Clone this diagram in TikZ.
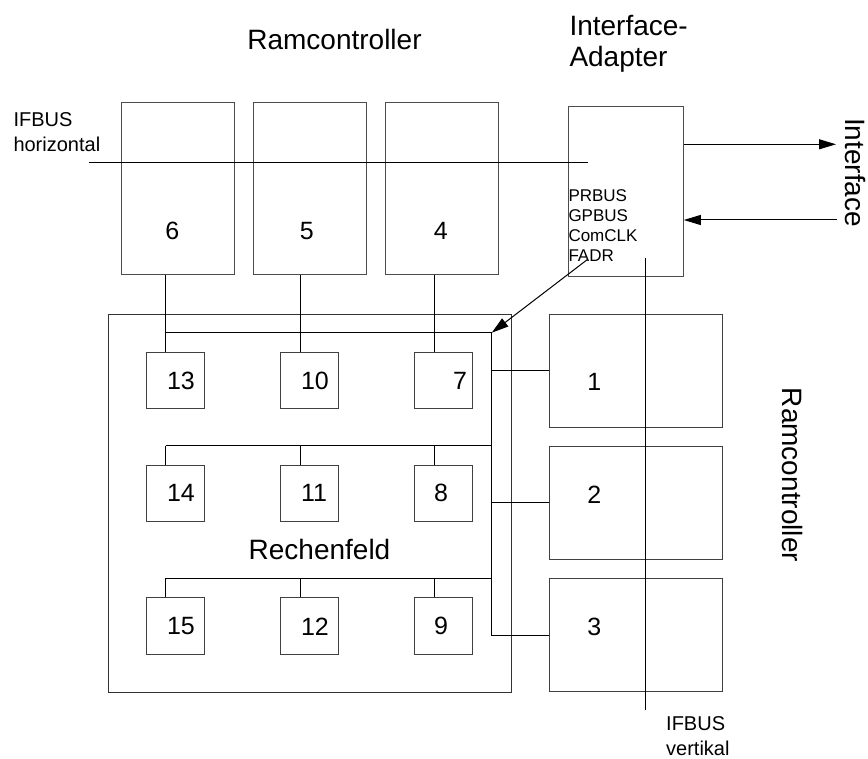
\documentclass[tikz,border=0pt]{standalone}
\usepackage{fontspec}
\setmainfont{Liberation Sans}
\usetikzlibrary{arrows.meta}

\begin{document}
\begin{tikzpicture}[x=1pt, y=-1pt, line width=1pt, >={Triangle[length=17pt,width=10pt]},
  ctrl/.style={draw=black!70, minimum width=113pt, minimum height=172pt, inner sep=0pt},
  adapt/.style={draw=black!70, minimum width=115pt, minimum height=170pt, inner sep=0pt},
  field/.style={draw=black!80, minimum width=403pt, minimum height=377pt, inner sep=0pt},
  pe/.style={draw=black!75, minimum width=58pt, minimum height=56.5pt, inner sep=0pt},
  ram/.style={draw=black!75, minimum width=173pt, minimum height=113pt, inner sep=0pt},
  num/.style={font=\fontsize{25}{30}\selectfont, inner sep=0pt},
  big/.style={font=\fontsize{28}{31}\selectfont, inner sep=0pt},
  bus/.style={font=\fontsize{20}{25}\selectfont, inner sep=0pt, align=left},
  sig/.style={font=\fontsize{17}{20}\selectfont, inner sep=0pt, align=left}]
  \useasboundingbox (0,0) rectangle (868,759);

  % upper ramcontrollers and interface adapter
  \node[ctrl] (rc6) at (177.5,189) {};
  \node[ctrl] (rc5) at (309.5,189) {};
  \node[ctrl] (rc4) at (441.5,189) {};
  \node[adapt] (ifa) at (625.8,191.7) {};
  \node[num] (n6) at (172.3,231.3) {6};
  \node[num] (n5) at (306.7,231.3) {5};
  \node[num] (n4) at (440.7,231.3) {4};

  % rechenfeld with its processing elements
  \node[field] (rf) at (309.5,503.5) {};
  \foreach \n/\x/\y in {13/175.3/380.5, 10/309.5/380.5, 7/443.8/380.5,
                        14/175.3/493.5, 11/309.5/493.5, 8/443.8/493.5,
                        15/175.3/625.8, 12/309.5/625.8, 9/443.8/625.8}
    \node[pe] (pe\n) at (\x,\y) {};
  \node[num] (n13) at (181,381) {13};
  \node[num] (n10) at (315,381) {10};
  \node[num] (n7)  at (460,381) {7};
  \node[num] (n14) at (181,493.3) {14};
  \node[num] (n11) at (314,493.3) {11};
  \node[num] (n8)  at (441,493.3) {8};
  \node[num] (n15) at (181,626.3) {15};
  \node[num] (n12) at (315,626.3) {12};
  \node[num] (n9)  at (441,626.3) {9};

  % right ramcontrollers
  \node[ram] (rm1) at (635.8,370.8) {};
  \node[ram] (rm2) at (635.8,502.8) {};
  \node[ram] (rm3) at (635.8,635) {};
  \node[num] (n1) at (594.3,381.7) {1};
  \node[num] (n2) at (594.3,495) {2};
  \node[num] (n3) at (594.3,626.7) {3};

  % bus taps
  \coordinate (tapA) at (165.7,0);
  \coordinate (tapB) at (300,0);
  \coordinate (tapC) at (434.3,0);
  \coordinate (vbus) at (491.7,0);
  \foreach \r/\a/\b/\c in {1/13/10/7, 2/14/11/8, 3/15/12/9} {
    \coordinate (row\r) at ([yshift=19pt]pe\a.north);
    \draw (row\r -| tapA) -- (row\r -| vbus);
    \foreach \n/\t in {\a/tapA, \b/tapB, \c/tapC}
      \draw (row\r -| \t) -- (pe\n.north -| \t);
  }
  \draw (rc6.south -| tapA) -- (row1 -| tapA);
  \draw (rc5.south -| tapB) -- (row1 -| tapB);
  \draw (rc4.south -| tapC) -- (row1 -| tapC);
  \draw (row1 -| vbus) -- (rm3.west -| vbus) -- (rm3.west);
  \draw (rm1.west -| vbus) -- (rm1.west);
  \draw (rm2.west -| vbus) -- (rm2.west);

  % IFBUS lines
  \coordinate (hbusW) at (89,162.7);
  \coordinate (hbusE) at (587.7,162.7);
  \coordinate (vbusN) at (645.3,257.7);
  \coordinate (vbusS) at (645.3,710.3);
  \draw (hbusW) -- (hbusE);
  \draw (vbusN) -- (vbusS);
  \coordinate (fadr) at (587.7,259.3);
  \draw[->] (fadr) -- (row1 -| vbus);

  % interface
  \coordinate (ifout) at (836,144.3);
  \coordinate (ifin) at (837,220);
  \draw[->] (ifout -| ifa.east) -- (ifout);
  \draw[->] (ifin) -- (ifin -| ifa.east);

  % labels
  \node[big, anchor=base] (lrc) at (334.5,50) {Ramcontroller};
  \node[big, anchor=north west, align=left] (lifa) at (569,14.6) {Interface-\\Adapter};
  \node[big, rotate=-90] (lif) at (855,172.5) {Interface};
  \node[big, rotate=-90] (lrm) at (793,475) {Ramcontroller};
  \node[big, anchor=base] (lrf) at (319.5,559) {Rechenfeld};
  \node[bus, anchor=north west] (lhb) at (13,111.7) {IFBUS\\horizontal};
  \node[bus, anchor=north west] (lvb) at (665.7,715.7) {IFBUS\\vertikal};
  \node[sig, anchor=north west] (lsig) at (568,189.5) {PRBUS\\GPBUS\\ComCLK\\FADR};
\end{tikzpicture}
\end{document}
